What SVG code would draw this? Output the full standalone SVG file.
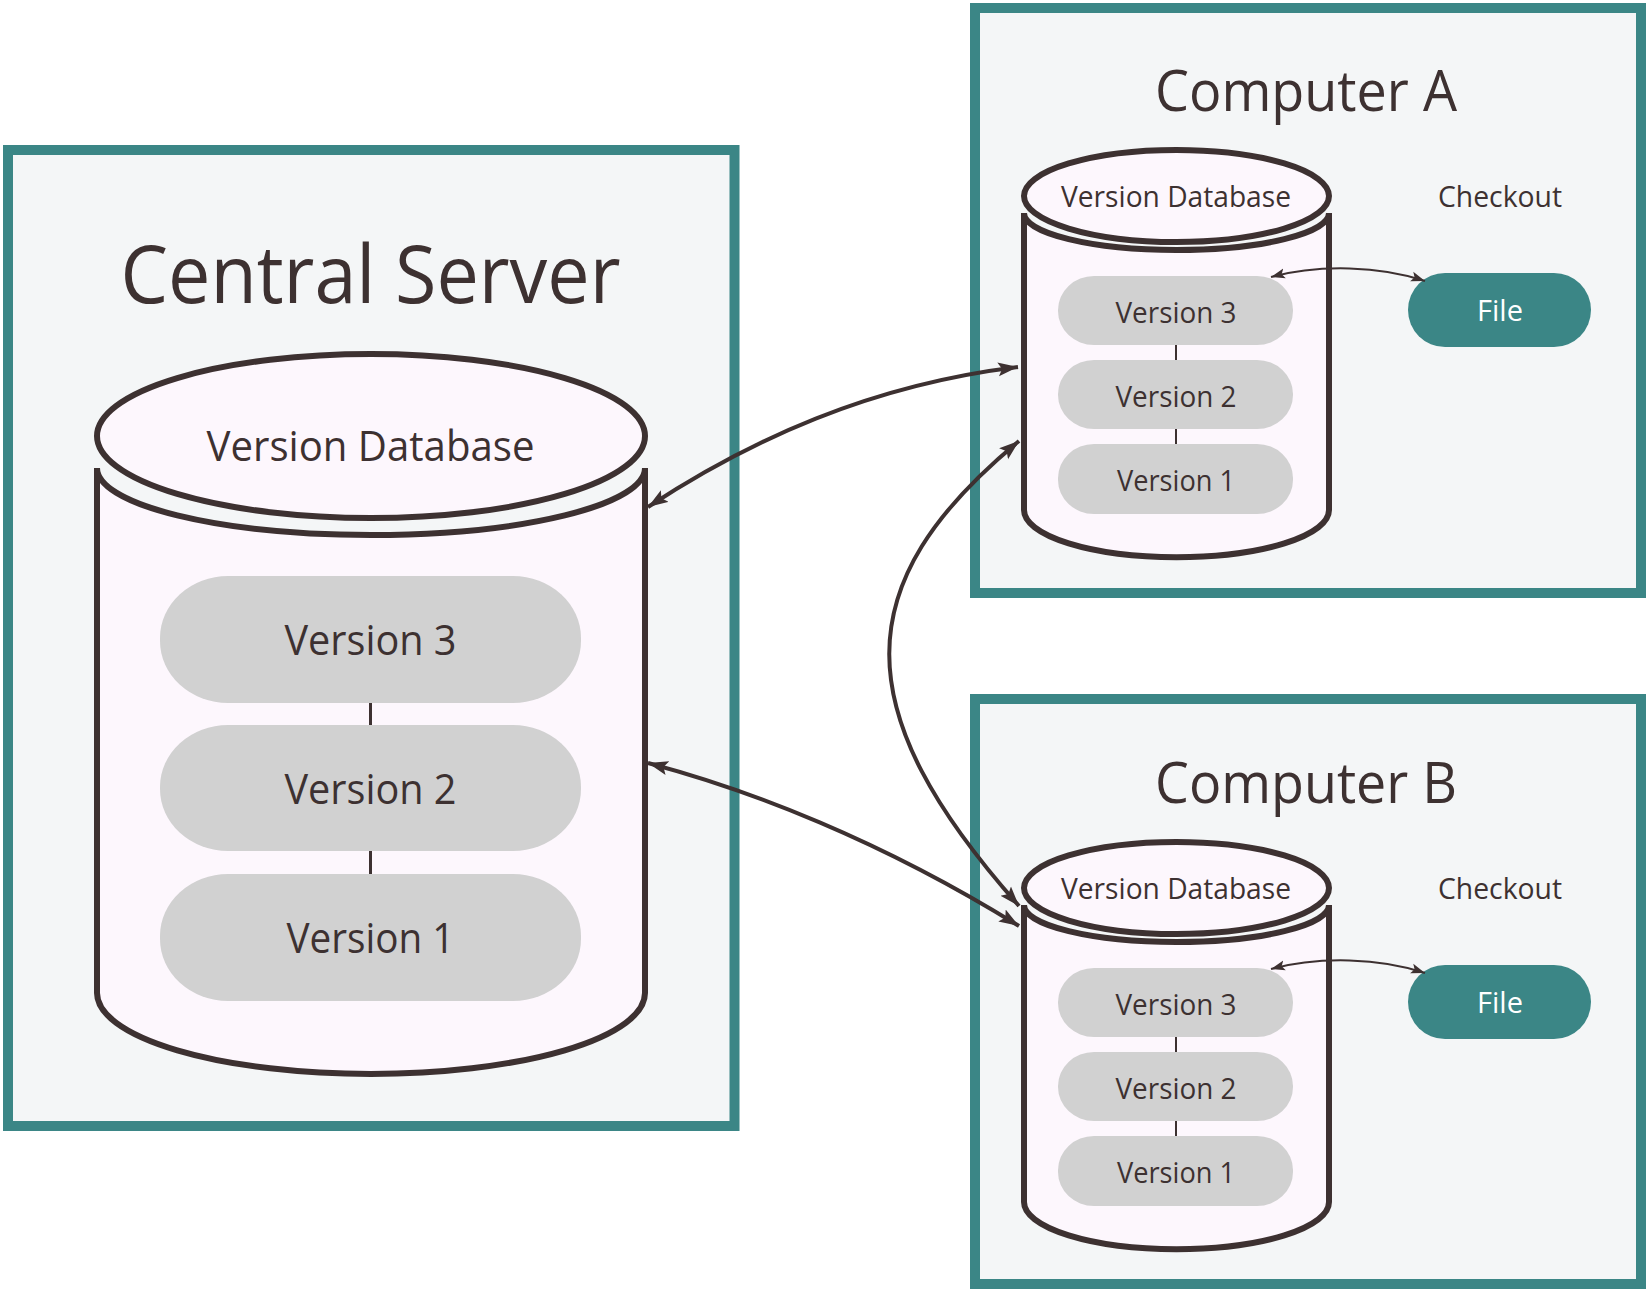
<svg xmlns="http://www.w3.org/2000/svg" width="1648" height="1292" viewBox="0 0 1648 1292">
<style>
.frame{fill:#f4f6f7;stroke:#3b8686;stroke-width:10}
.cyl{fill:#fdf7fd;stroke:#3d3131;stroke-width:6}
.pill{fill:#d1d1d1}
.vline{stroke:#3d3131;stroke-width:3}
.t{font-family:"Open Sans","Noto Sans","Liberation Sans",sans-serif;fill:#3d3131;text-anchor:middle}
.w{fill:#ffffff}
.file{fill:#3b8686}
.conn{fill:none;stroke:#3d3131;stroke-width:4}
.conn2{fill:none;stroke:#3d3131;stroke-width:2}
</style>
<defs>
<marker id="ah" markerUnits="userSpaceOnUse" markerWidth="22" markerHeight="16" refX="20" refY="7.5" orient="auto-start-reverse" viewBox="0 0 22 16">
<path d="M0,0.5 L20,7.5 L0,14.5 L4,7.5 Z" fill="#3d3131"/>
</marker>
<marker id="ah2" markerUnits="userSpaceOnUse" markerWidth="16" markerHeight="12" refX="14" refY="5.5" orient="auto-start-reverse" viewBox="0 0 16 12">
<path d="M0,0.5 L14,5.5 L0,10.5 L3,5.5 Z" fill="#3d3131"/>
</marker>
</defs>
<rect width="1648" height="1292" fill="#ffffff"/>

<g id="central-server">
<rect class="frame" x="8" y="150" width="726.5" height="976"/>
<text class="t" x="370.5" y="303" font-size="80" textLength="500" lengthAdjust="spacingAndGlyphs">Central Server</text>
<g id="central-db">
<path class="cyl" d="M97,468 L97,993 A274,81 0 0 0 645,993 L645,468 A274,67 0 0 1 97,468 Z"/>
<ellipse class="cyl" cx="371" cy="436" rx="274" ry="82"/>
<text class="t" x="370.5" y="461" font-size="42" textLength="328" lengthAdjust="spacingAndGlyphs">Version Database</text>
</g>
<line class="vline" x1="370.5" y1="703" x2="370.5" y2="725"/>
<line class="vline" x1="370.5" y1="851" x2="370.5" y2="874"/>
<g id="central-v3"><rect class="pill" x="160" y="576" width="421" height="127" rx="68" ry="62"/><text class="t" x="370.5" y="655" font-size="42" textLength="172" lengthAdjust="spacingAndGlyphs">Version 3</text></g>
<g id="central-v2"><rect class="pill" x="160" y="725" width="421" height="126" rx="68" ry="62"/><text class="t" x="370.5" y="804" font-size="42" textLength="172" lengthAdjust="spacingAndGlyphs">Version 2</text></g>
<g id="central-v1"><rect class="pill" x="160" y="874" width="421" height="127" rx="68" ry="62"/><text class="t" x="370.5" y="953" font-size="42" textLength="168" lengthAdjust="spacingAndGlyphs">Version 1</text></g>
</g>

<g id="computer-a">
<rect class="frame" x="975" y="8" width="666" height="585"/>
<text class="t" x="1306" y="111" font-size="57" textLength="302" lengthAdjust="spacingAndGlyphs">Computer A</text>
<g id="a-db">
<path class="cyl" d="M1024,213 L1024,510 A152,47 0 0 0 1329,510 L1329,213 A152.5,37 0 0 1 1024,213 Z"/>
<ellipse class="cyl" cx="1176.5" cy="196" rx="152.5" ry="46"/>
<text class="t" x="1176" y="207" font-size="29" textLength="230" lengthAdjust="spacingAndGlyphs">Version Database</text>
</g>
<line class="vline" x1="1176" y1="345" x2="1176" y2="360" style="stroke-width:2"/>
<line class="vline" x1="1176" y1="429" x2="1176" y2="444" style="stroke-width:2"/>
<g id="a-v3"><rect class="pill" x="1058" y="276" width="235" height="69" rx="36" ry="34"/><text class="t" x="1176" y="323" font-size="29" textLength="121" lengthAdjust="spacingAndGlyphs">Version 3</text></g>
<g id="a-v2"><rect class="pill" x="1058" y="360" width="235" height="69" rx="36" ry="34"/><text class="t" x="1176" y="407" font-size="29" textLength="121" lengthAdjust="spacingAndGlyphs">Version 2</text></g>
<g id="a-v1"><rect class="pill" x="1058" y="444" width="235" height="70" rx="36" ry="34"/><text class="t" x="1176" y="491" font-size="29" textLength="118" lengthAdjust="spacingAndGlyphs">Version 1</text></g>
<text class="t" x="1500" y="207" font-size="29" textLength="124" lengthAdjust="spacingAndGlyphs">Checkout</text>
<g id="a-file"><rect class="file" x="1408" y="273" width="183" height="74" rx="37"/><text class="t w" x="1500" y="321" font-size="29">File</text></g>
</g>

<g id="computer-b">
<rect class="frame" x="975" y="699" width="666" height="585"/>
<text class="t" x="1306" y="803" font-size="57" textLength="302" lengthAdjust="spacingAndGlyphs">Computer B</text>
<g id="b-db">
<path class="cyl" d="M1024,905 L1024,1202 A152,47 0 0 0 1329,1202 L1329,905 A152.5,37 0 0 1 1024,905 Z"/>
<ellipse class="cyl" cx="1176.5" cy="888" rx="152.5" ry="46"/>
<text class="t" x="1176" y="899" font-size="29" textLength="230" lengthAdjust="spacingAndGlyphs">Version Database</text>
</g>
<line class="vline" x1="1176" y1="1037" x2="1176" y2="1052" style="stroke-width:2"/>
<line class="vline" x1="1176" y1="1121" x2="1176" y2="1136" style="stroke-width:2"/>
<g id="b-v3"><rect class="pill" x="1058" y="968" width="235" height="69" rx="36" ry="34"/><text class="t" x="1176" y="1015" font-size="29" textLength="121" lengthAdjust="spacingAndGlyphs">Version 3</text></g>
<g id="b-v2"><rect class="pill" x="1058" y="1052" width="235" height="69" rx="36" ry="34"/><text class="t" x="1176" y="1099" font-size="29" textLength="121" lengthAdjust="spacingAndGlyphs">Version 2</text></g>
<g id="b-v1"><rect class="pill" x="1058" y="1136" width="235" height="70" rx="36" ry="34"/><text class="t" x="1176" y="1183" font-size="29" textLength="118" lengthAdjust="spacingAndGlyphs">Version 1</text></g>
<text class="t" x="1500" y="899" font-size="29" textLength="124" lengthAdjust="spacingAndGlyphs">Checkout</text>
<g id="b-file"><rect class="file" x="1408" y="965" width="183" height="74" rx="37"/><text class="t w" x="1500" y="1013" font-size="29">File</text></g>
</g>

<g id="connectors">
<path class="conn" d="M648,507 C750,440 870,385 1018,367" marker-start="url(#ah)" marker-end="url(#ah)"/>
<path class="conn" d="M648,763 C750,790 880,840 1019,926" marker-start="url(#ah)" marker-end="url(#ah)"/>
<path class="conn" d="M1019,441 C846,584 846,711 1019,906" marker-start="url(#ah)" marker-end="url(#ah)"/>
<path class="conn2" d="M1271,277 C1320,264 1380,266 1425,281" marker-start="url(#ah2)" marker-end="url(#ah2)"/>
<path class="conn2" d="M1271,969 C1320,956 1380,958 1425,973" marker-start="url(#ah2)" marker-end="url(#ah2)"/>
</g>
</svg>
